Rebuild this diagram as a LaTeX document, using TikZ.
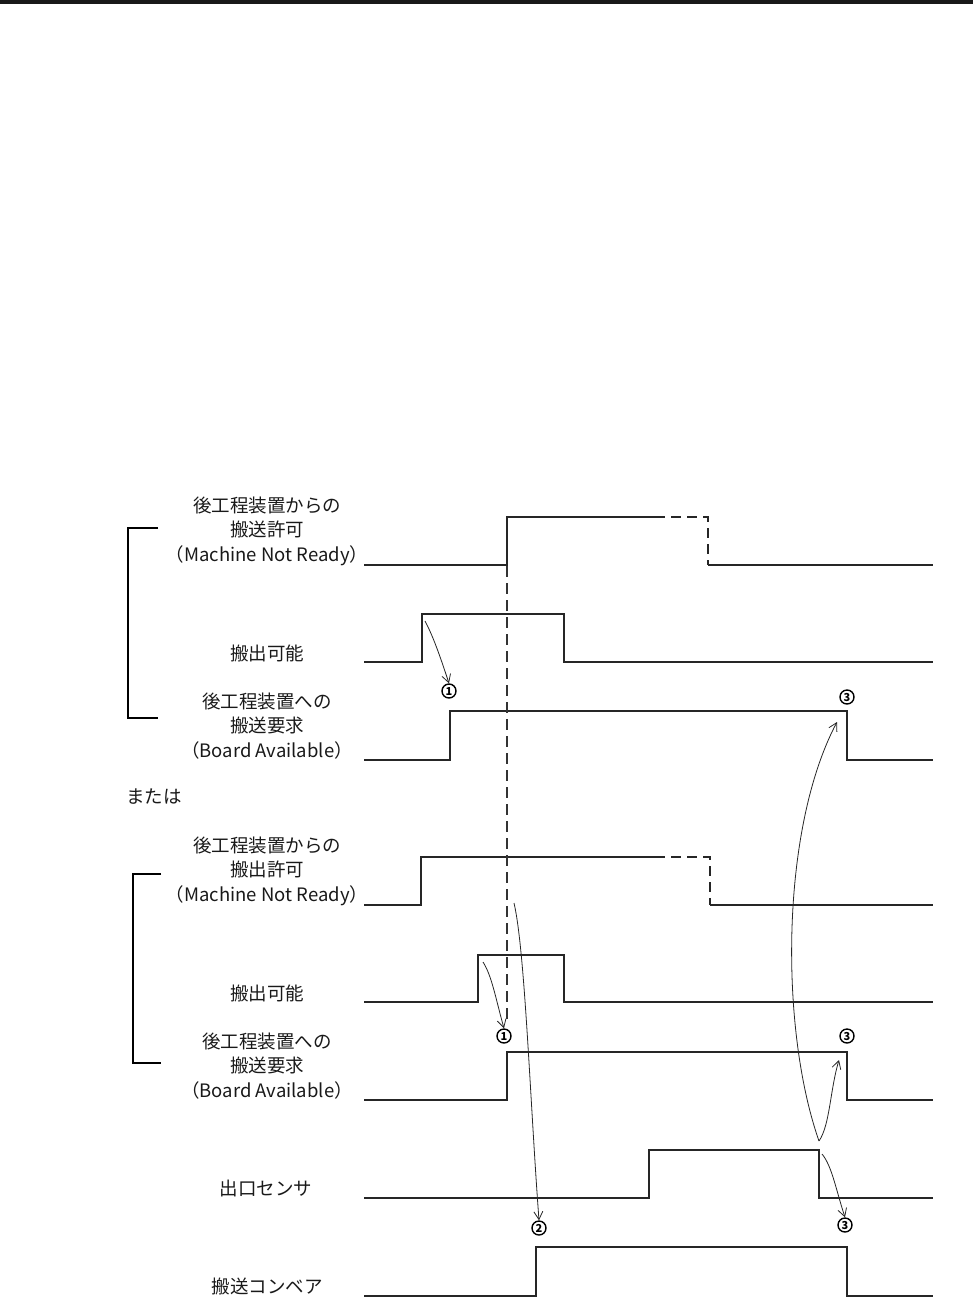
\documentclass[tikz,border=0pt]{standalone}
\usepackage{fontspec}
\newfontfamily\jp{Noto Sans CJK JP}
\newfontfamily\jpb{Noto Sans CJK JP Bold}
\usetikzlibrary{arrows.meta}
\begin{document}
\begin{tikzpicture}[x=1pt,y=-1pt,
  wave/.style={line width=1.7pt, black!85, line join=miter},
  wavedash/.style={wave, dash pattern=on 10pt off 6pt},
  guide/.style={line width=1.3pt, black!80, dash pattern=on 11pt off 6pt},
  bracketline/.style={line width=2.6pt, black},
  lbl/.style={font=\jp\fontsize{18.5}{24.5}\selectfont, align=center, inner sep=0pt, text=black!90},
  circ/.style={circle, draw, line width=1.4pt, minimum size=14pt, inner sep=0pt,
    font=\jp\bfseries\fontsize{11}{11}\selectfont},
  cause/.style={line width=0.8pt, black!85, -{Straight Barb[length=8pt,width=9pt]}},
]
\useasboundingbox (0,0) rectangle (973,1302);
% top rule
\fill[black!90] (0,0) rectangle (973,4);

% brackets
\draw[bracketline] (158,528) -- (128,528) -- (128,718) -- (158,718);
\draw[bracketline] (161,874) -- (133,874) -- (133,1063) -- (161,1063);

% labels
\node[lbl] (l1) at (267,531) {後工程装置からの\\搬送許可\\（Machine Not Ready）};
\node[lbl] (l2) at (267,653) {搬出可能};
\node[lbl] (l3) at (267,726) {後工程装置への\\搬送要求\\（Board Available）};
\node[lbl, anchor=west] (or) at (126,797) {または};
\node[lbl] (l4) at (267,871) {後工程装置からの\\搬出許可\\（Machine Not Ready）};
\node[lbl] (l5) at (267,993) {搬出可能};
\node[lbl] (l6) at (267,1066) {後工程装置への\\搬送要求\\（Board Available）};
\node[lbl] (l7) at (266,1189) {出口センサ};
\node[lbl] (l8) at (267,1286) {搬送コンベア};

% waveforms, upper group
\draw[wave] (364,565) -- (507,565) -- (507,517) -- (655,517);
\draw[wavedash] (655,517) -- (708,517) -- (708,565);
\draw[wave] (708,565) -- (933,565);
\draw[wave] (364,662) -- (422,662) -- (422,614) -- (564,614) -- (564,662) -- (933,662);
\draw[wave] (364,760) -- (450,760) -- (450,711) -- (847,711) -- (847,760) -- (933,760);

% waveforms, lower group
\draw[wave] (364,905) -- (421,905) -- (421,857) -- (655,857);
\draw[wavedash] (655,857) -- (710,857) -- (710,905);
\draw[wave] (710,905) -- (933,905);
\draw[wave] (364,1002) -- (478,1002) -- (478,955) -- (564,955) -- (564,1002) -- (933,1002);
\draw[wave] (364,1100) -- (507,1100) -- (507,1052) -- (847,1052) -- (847,1100) -- (933,1100);
\draw[wave] (364,1198) -- (649,1198) -- (649,1150) -- (819,1150) -- (819,1198) -- (933,1198);
\draw[wave] (364,1296) -- (536,1296) -- (536,1247) -- (847,1247) -- (847,1296) -- (933,1296);

% vertical guide
\draw[guide] (507,566) -- (507,1024);

% circled numbers
\node[circ] (c1) at (449,691) {1};
\node[circ] (c3) at (847,697) {3};
\node[circ] (c1b) at (504,1036) {1};
\node[circ] (c3b) at (847,1036) {3};
\node[circ] (c2) at (539,1228) {2};
\node[circ] (c3c) at (845,1225) {3};

% arrow start points
\coordinate (s1) at (425,621);
\coordinate (s2) at (483,962);
\coordinate (s3) at (514,903);
\coordinate (s4) at (819,1141);
\coordinate (s5) at (822,1154);

% cause arrows
\draw[cause] (s1) .. controls (433,636) and (440,656) .. (c1.north);
\draw[cause] (s2) .. controls (492,976) and (496,1000) .. (c1b.north);
\draw[cause] (s3) .. controls (525,950) and (530,1100) .. (c2.north);
\draw[cause] (s4) .. controls (780,1030) and (780,830) .. (837,722);
\draw[cause] (s4) .. controls (830,1125) and (830,1090) .. (839,1060);
\draw[cause] (s5) .. controls (832,1166) and (836,1190) .. (c3c.north);
\end{tikzpicture}
\end{document}
